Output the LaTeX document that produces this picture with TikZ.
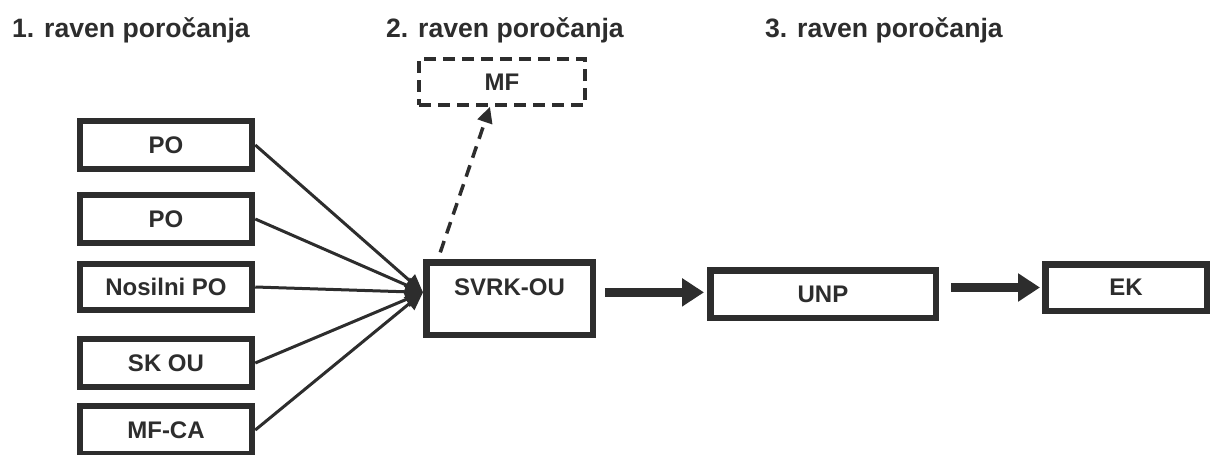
\documentclass[tikz,border=0pt]{standalone}
\usepackage{fontspec}
\setmainfont{Liberation Sans}
\usetikzlibrary{arrows.meta, positioning, calc}
\definecolor{ink}{RGB}{45,45,45}
\tikzset{
    title/.style={font=\fontsize{26.6}{30}\selectfont\bfseries, text=ink, inner sep=0pt, anchor=base west},
    box/.style={rectangle, draw=ink, line width=6.5pt, inner sep=0pt, text=ink, font=\fontsize{24}{28}\selectfont\bfseries},
    mfbox/.style={box, line width=3.5pt, dash pattern=on 12pt off 7pt},
    feed/.style={ink, line width=3pt, -{Triangle[length=18pt,width=16pt]}},
    flow/.style={ink, line width=9pt, -{Triangle[length=22pt,width=27pt]}},
    mfarrow/.style={ink, line width=3.5pt, dash pattern=on 12pt off 8pt, -{Triangle[length=16pt,width=15pt]}}
}

\begin{document}
\begin{tikzpicture}[x=1pt, y=-1pt]
    \useasboundingbox (0,0) rectangle (1211,455);
    % levels
    \node[title] (level1) at (12,37) {1. raven poročanja};
    \node[title] (level2) at (386,37) {2. raven poročanja};
    \node[title] (level3) at (765,37) {3. raven poročanja};

    % 1. raven
    \node[box, minimum width=172pt, minimum height=48pt] (po1) at (166,145) {PO};
    \node[box, minimum width=172pt, minimum height=48pt] (po2) at (166,219) {PO};
    \node[box, minimum width=172pt, minimum height=46pt] (nosilni) at (166,287) {Nosilni PO};
    \node[box, minimum width=172pt, minimum height=48pt] (skou) at (166,363) {SK OU};
    \node[box, minimum width=172pt, minimum height=48pt] (mfca) at (166,430) {MF-CA};

    % 2. raven
    \node[box, minimum width=166.5pt, text height=32.75pt, text depth=39.75pt] (svrk) at (509.5,298.5) {SVRK-OU};
    \node[mfbox, minimum width=166pt, minimum height=46pt] (mf) at (502,82) {MF};

    % 3. raven
    \node[box, minimum width=225.5pt, minimum height=47.5pt] (unp) at (823,294) {UNP};
    \node[box, minimum width=161.5pt, minimum height=46.5pt] (ek) at (1126,287.5) {EK};

    \foreach \src in {po1, po2, nosilni, skou, mfca}
        \draw[feed] (\src.east) -- (svrk.mid west);
    \draw[mfarrow, shorten <=7pt] ([xshift=15pt]svrk.north west) -- ([xshift=-12pt]mf.south);
    \draw[flow, shorten <=9pt, shorten >=3pt] (svrk.mid east) -- (svrk.mid east -| unp.west);
    \draw[flow, shorten <=12pt, shorten >=2pt] (ek.west -| unp.east) -- (ek.west);
\end{tikzpicture}
\end{document}
